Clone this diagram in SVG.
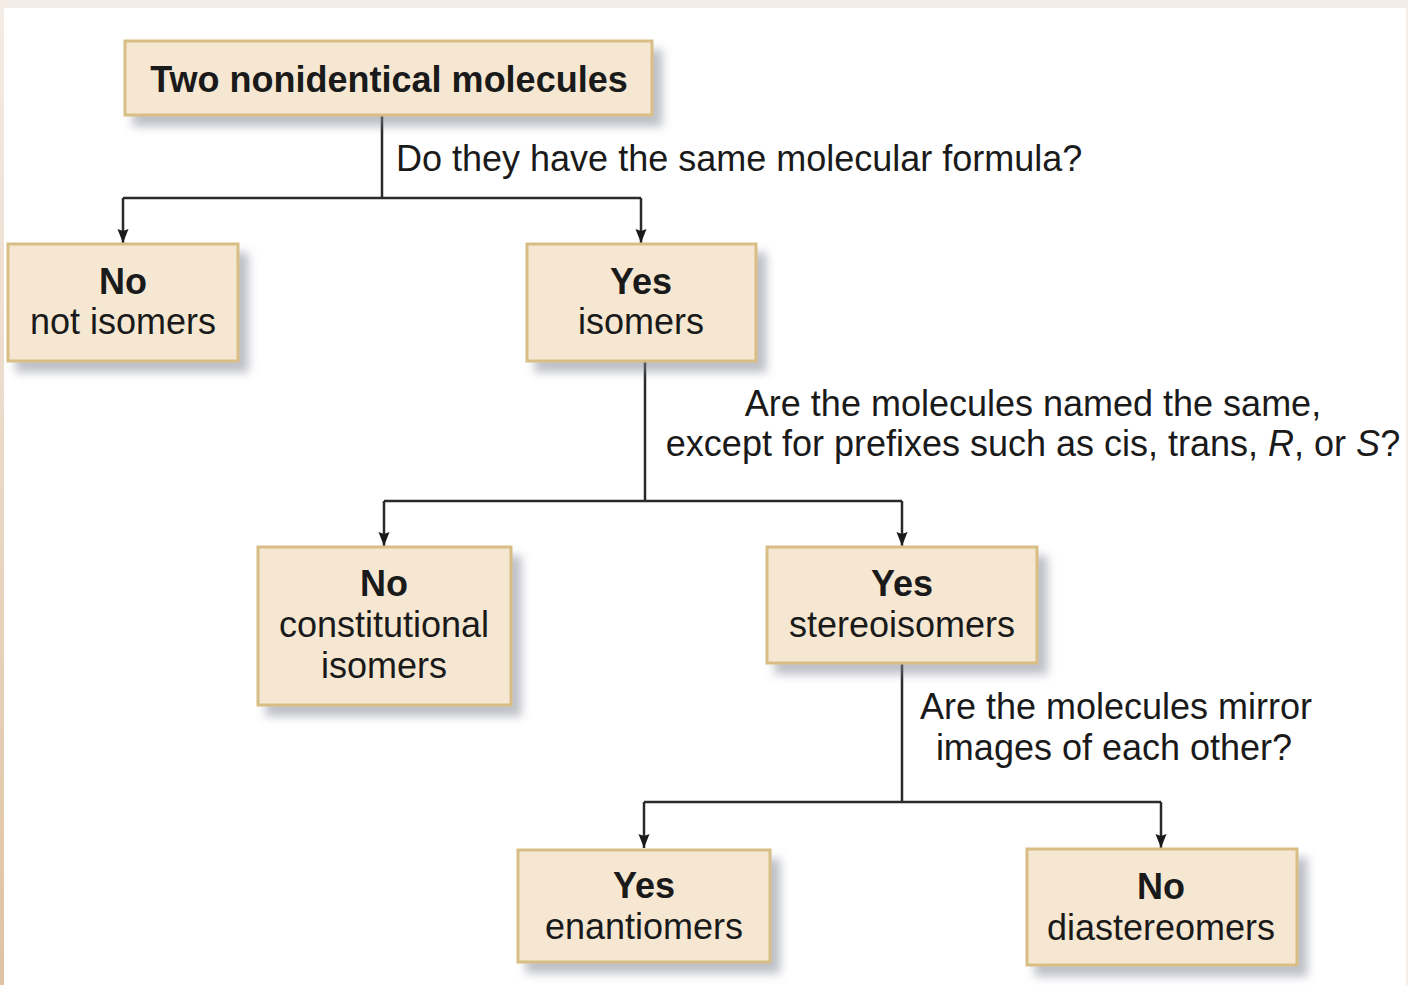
<svg xmlns="http://www.w3.org/2000/svg" width="1408" height="985" viewBox="0 0 1408 985">
<defs>
<linearGradient id="edge" x1="0" y1="0" x2="0" y2="1">
<stop offset="0" stop-color="#f4ece6"/>
<stop offset="1" stop-color="#dfc3a2"/>
</linearGradient>
<filter id="shadow" x="-10%" y="-20%" width="130%" height="170%">
<feGaussianBlur in="SourceAlpha" stdDeviation="5"/>
<feOffset dx="9" dy="10" result="b"/>
<feFlood flood-color="#7d8290" flood-opacity="0.5"/>
<feComposite in2="b" operator="in" result="s"/>
<feMerge><feMergeNode in="s"/><feMergeNode in="SourceGraphic"/></feMerge>
</filter>
<marker id="arr" viewBox="0 0 14 12" refX="14" refY="6" markerWidth="14" markerHeight="12" markerUnits="userSpaceOnUse" orient="auto">
<path d="M0,0.5 L14,6 L0,11.5 L2,6 z" fill="#1a1a1a"/>
</marker>
</defs>
<style>
.box{fill:#f5e7d2;stroke:#d8bd85;stroke-width:3;filter:url(#shadow)}
.t{font-family:"Liberation Sans",Arial,Helvetica,sans-serif;font-size:36px;fill:#1a1a1a}
.b{font-weight:bold}
.c{text-anchor:middle}
.ln{fill:none;stroke:#2a2a2a;stroke-width:2.5}
</style>
<rect x="0" y="0" width="1408" height="985" fill="#f4ece6"/>
<rect x="0" y="0" width="4" height="985" fill="url(#edge)"/>
<rect x="4" y="8" width="1402" height="977" fill="#ffffff"/>

<g id="connectors">
<path class="ln" d="M382,115 V198 M123,198 H641"/>
<path class="ln" d="M123,198 V243" marker-end="url(#arr)"/>
<path class="ln" d="M641,198 V243" marker-end="url(#arr)"/>
<path class="ln" d="M645,361 V501 M384,501 H902"/>
<path class="ln" d="M384,501 V546" marker-end="url(#arr)"/>
<path class="ln" d="M902,501 V546" marker-end="url(#arr)"/>
<path class="ln" d="M902,663 V802 M644,802 H1161"/>
<path class="ln" d="M644,802 V848" marker-end="url(#arr)"/>
<path class="ln" d="M1161,802 V848" marker-end="url(#arr)"/>
</g>

<g id="label1"><text class="t" x="396" y="171">Do they have the same molecular formula?</text></g>
<g id="label2">
<text class="t c" x="1033" y="416">Are the molecules named the same,</text>
<text class="t c" x="1033" y="456">except for prefixes such as cis, trans, <tspan font-style="italic">R</tspan>, or <tspan font-style="italic">S</tspan>?</text>
</g>
<g id="label3">
<text class="t c" x="1116" y="719">Are the molecules mirror</text>
<text class="t c" x="1114" y="760">images of each other?</text>
</g>

<g id="n-start">
<rect class="box" x="125" y="41" width="527" height="74"/>
<text class="t b c" x="389" y="92">Two nonidentical molecules</text>
</g>
<g id="n-not-isomers">
<rect class="box" x="8" y="244" width="230" height="117"/>
<text class="t b c" x="123" y="294">No</text>
<text class="t c" x="123" y="334">not isomers</text>
</g>
<g id="n-isomers">
<rect class="box" x="527" y="244" width="229" height="117"/>
<text class="t b c" x="641" y="294">Yes</text>
<text class="t c" x="641" y="334">isomers</text>
</g>
<g id="n-constitutional">
<rect class="box" x="258" y="547" width="253" height="158"/>
<text class="t b c" x="384" y="596">No</text>
<text class="t c" x="384" y="637">constitutional</text>
<text class="t c" x="384" y="678">isomers</text>
</g>
<g id="n-stereoisomers">
<rect class="box" x="767" y="547" width="270" height="116"/>
<text class="t b c" x="902" y="596">Yes</text>
<text class="t c" x="902" y="637">stereoisomers</text>
</g>
<g id="n-enantiomers">
<rect class="box" x="518" y="850" width="252" height="112"/>
<text class="t b c" x="644" y="898">Yes</text>
<text class="t c" x="644" y="939">enantiomers</text>
</g>
<g id="n-diastereomers">
<rect class="box" x="1027" y="849" width="270" height="116"/>
<text class="t b c" x="1161" y="899">No</text>
<text class="t c" x="1161" y="940">diastereomers</text>
</g>
</svg>
